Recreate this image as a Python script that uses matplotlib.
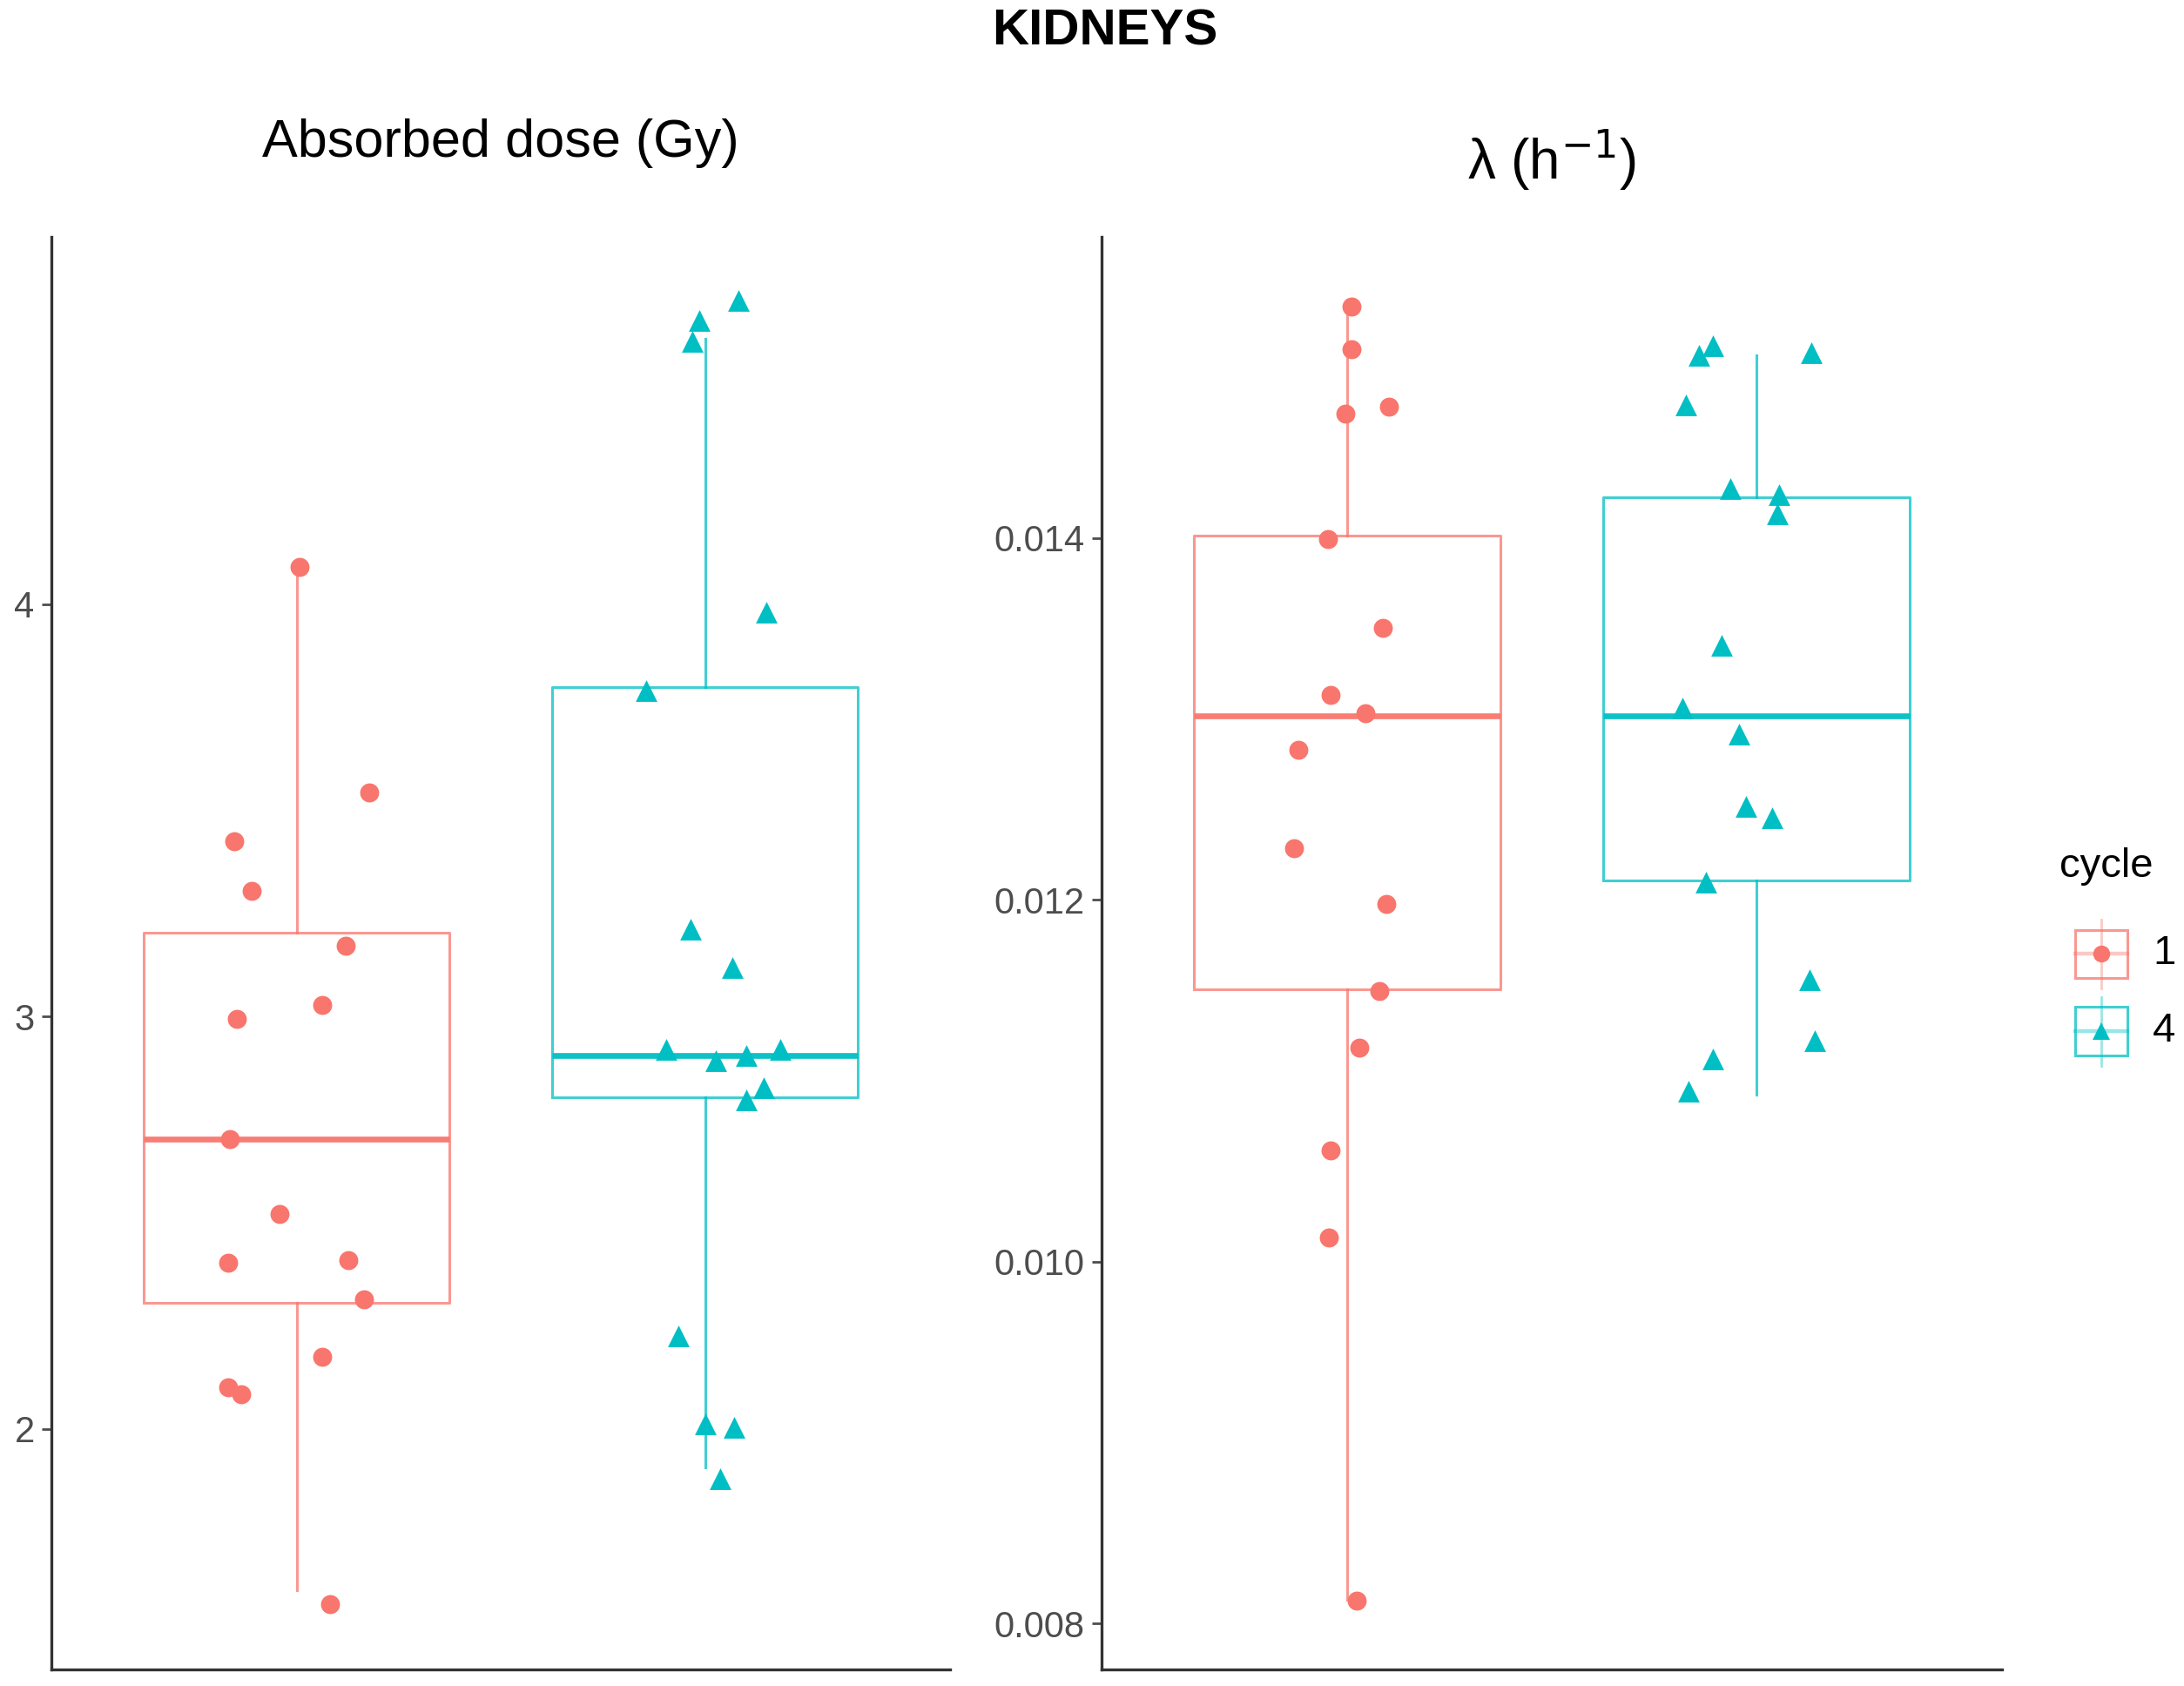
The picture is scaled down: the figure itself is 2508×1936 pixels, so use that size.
import matplotlib
matplotlib.use('Agg')
import matplotlib.pyplot as plt
from matplotlib.patches import Rectangle
from matplotlib.lines import Line2D

plt.rcParams['font.family'] = ['Liberation Sans Narrow', 'Liberation Sans', 'DejaVu Sans']

RED = '#F8766D'
TEAL = '#00BFC4'

# ──── Absorbed dose (Gy) ─────────────────────────────────────
dose_c1_x = [1.007, 1.178, 0.847, 0.891, 1.120, 1.062, 0.854, 0.837,
             0.959, 0.833, 1.126, 1.164, 1.062, 0.833, 0.864, 1.082]
dose_c1_y = [4.090, 3.543, 3.425, 3.304, 3.172, 3.027, 2.993, 2.703,
             2.521, 2.403, 2.410, 2.315, 2.175, 2.101, 2.084, 1.575]
dose_c4_x = [2.081, 1.986, 1.969, 2.150, 1.856, 1.965, 2.068, 1.904, 2.027,
             2.102, 2.184, 2.143, 2.102, 1.935, 2.000, 2.071, 2.037]
dose_c4_y = [4.735, 4.688, 4.637, 3.980, 3.789, 3.212, 3.118, 2.919, 2.892,
             2.906, 2.919, 2.828, 2.798, 2.226, 2.013, 2.003, 1.879]
# box stats: whislo, q1, med, q3, whishi
dose_c1_box = [1.609, 2.305, 2.703, 3.202, 4.090]
dose_c4_box = [1.906, 2.804, 2.906, 3.799, 4.644]

# ──── lambda (1/h) ────────────────────────────────────────────
lam_c1_x = [1.010, 1.010, 0.996, 1.102, 0.952, 1.088, 0.959, 1.044,
            0.880, 0.870, 1.095, 1.078, 1.030, 0.959, 0.955, 1.023]
lam_c1_y = [0.015278, 0.015040, 0.014685, 0.014724, 0.013992, 0.013500,
            0.013130, 0.013030, 0.012830, 0.012283, 0.011975, 0.011497,
            0.011181, 0.010612, 0.010134, 0.008124]
lam_c4_x = [1.895, 1.861, 2.134, 1.827, 1.936, 2.055, 2.052, 1.916, 1.820,
            1.957, 1.974, 2.038, 1.878, 2.130, 2.144, 1.895, 1.834]
lam_c4_y = [0.015063, 0.015009, 0.015024, 0.014732, 0.014270, 0.014239,
            0.014131, 0.013407, 0.013060, 0.012914, 0.012514, 0.012452,
            0.012098, 0.011559, 0.011220, 0.011120, 0.010943]
lam_c1_box = [0.008131, 0.011505, 0.013014, 0.014010, 0.015317]
lam_c4_box = [0.010920, 0.012105, 0.013014, 0.014223, 0.015009]

dose_ticks = [2, 3, 4]
lam_ticks = [0.008, 0.010, 0.012, 0.014]
lam_ticklabels = ['0.008', '0.010', '0.012', '0.014']
cycles = ['1', '4']


def stats(b):
    return dict(whislo=b[0], q1=b[1], med=b[2], q3=b[3], whishi=b[4], fliers=[])


def draw_panel(ax, boxes, pts, ylim, ticks, ticklabels):
    for pos, b, col in zip([1, 2], boxes, [RED, TEAL]):
        ax.bxp([stats(b)], positions=[pos], widths=0.75, showcaps=False,
               boxprops=dict(color=col, lw=1.1, alpha=0.75),
               whiskerprops=dict(color=col, lw=1.1, alpha=0.75),
               medianprops=dict(color=col, lw=2.4, alpha=0.95),
               manage_ticks=False)
    (x1, y1), (x4, y4) = pts
    ax.scatter(x1, y1, s=62, marker='o', color=RED, lw=0, zorder=3)
    ax.scatter(x4, y4, s=80, marker='^', color=TEAL, lw=0, zorder=3)
    ax.set_xlim(0.4, 2.6)
    ax.set_ylim(*ylim)
    ax.set_xticks([])
    ax.set_yticks(ticks)
    ax.set_yticklabels(ticklabels)
    ax.tick_params(axis='y', length=4, width=1.0, color='#4D4D4D',
                   labelcolor='#4D4D4D', labelsize=15, pad=3)
    for s in ['top', 'right']:
        ax.spines[s].set_visible(False)
    for s in ['left', 'bottom']:
        ax.spines[s].set_color('#333333')
        ax.spines[s].set_linewidth(1.2)


fig = plt.figure(figsize=(12.54, 9.68), dpi=200)

ax1 = fig.add_axes([0.0236, 0.0099, 0.4114, 0.8496])
draw_panel(ax1, [dose_c1_box, dose_c4_box],
           [(dose_c1_x, dose_c1_y), (dose_c4_x, dose_c4_y)],
           (1.417, 4.89), dose_ticks, [str(t) for t in dose_ticks])

ax2 = fig.add_axes([0.5045, 0.0099, 0.4120, 0.8496])
draw_panel(ax2, [lam_c1_box, lam_c4_box],
           [(lam_c1_x, lam_c1_y), (lam_c4_x, lam_c4_y)],
           (0.007746, 0.015663), lam_ticks, lam_ticklabels)

fig.text(0.5057, 0.981, 'KIDNEYS', ha='center', va='center',
         fontsize=21, fontweight='bold')
fig.text(0.2293, 0.915, 'Absorbed dose (Gy)', ha='center', va='center', fontsize=22)
fig.text(0.7105, 0.905, r'λ (h$^{-1}$)', ha='center', va='center', fontsize=23)

# ──── legend (boxplot glyph keys) ─────────────────────────────
lg = fig.add_axes([0.940, 0.35, 0.06, 0.17])
lg.set_xlim(0, 1)
lg.set_ylim(0, 1)
lg.axis('off')
lg.text(0.05, 0.80, 'cycle', ha='left', va='center', fontsize=17)
key_y = [0.495, 0.225]
for ky, col, mk, lab in zip(key_y, [RED, TEAL], ['o', '^'], cycles):
    lg.add_patch(Rectangle((0.17, ky - 0.085), 0.40, 0.17, fill=False,
                           edgecolor=col, lw=1.1, alpha=0.75))
    lg.add_line(Line2D([0.37, 0.37], [ky - 0.12, ky + 0.12], color=col, lw=1.0, alpha=0.4))
    lg.add_line(Line2D([0.17, 0.57], [ky, ky], color=col, lw=1.6, alpha=0.4))
    lg.plot([0.37], [ky], marker=mk, color=col, ms=7, mew=0)
    lg.text(0.76, ky, lab, ha='left', va='center', fontsize=17)

fig.savefig('out.png', dpi=200)
